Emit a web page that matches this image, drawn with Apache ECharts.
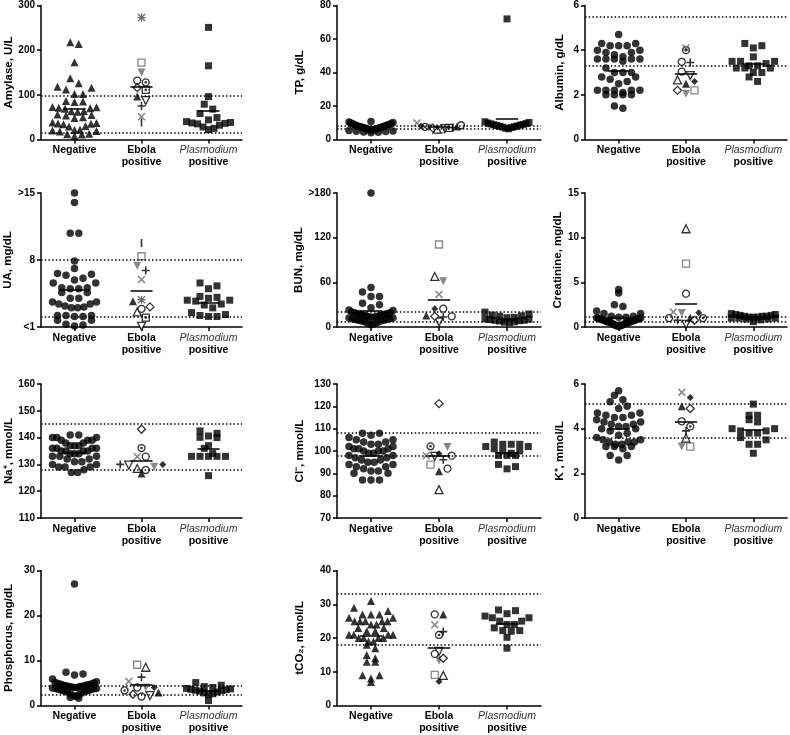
<!DOCTYPE html>
<html><head><meta charset="utf-8">
<script src="https://cdn.jsdelivr.net/npm/echarts@6/dist/echarts.min.js"></script>
<style>html,body{margin:0;padding:0;background:#fff}#c{width:790px;height:735px}</style>
</head><body><div id="c"></div>
<script>
// ---------- DATA ----------
const categories = ['Negative', 'Ebola', 'Plasmodium'];
// Ebola patients order: asterisk, squareGray, squareDot, triDownGray, triDownOpen, triUpOpen, triUpFilled,
// circleOpen, circleDot, diamondOpen, diamondFilled, plus, crossGray, bar, circleOpen2

const amylaseNeg = [218, 214, 173, 137, 126, 118, 116, 112, 102, 102, 86, 85, 84, 73, 72, 71, 70, 69, 64, 63, 62, 56, 55, 54, 50, 48, 38, 37, 36, 35, 34, 30, 29, 22, 21, 20, 19, 18, 13, 12, 11, 8];
const amylaseEbola = [273, 172, 111, 150, 87, null, 96, 132, 128, 116, null, 75, 51, 38, null];
const amylasePlas = [251, 165, 96, 79, 68, 58, 49, 44, 40, 38, 37, 36, 35, 32, 28, 25, 22];
const amylaseRef = [15, 97];
const amylaseTicks = [0, 100, 200, 300];

const tpNeg = [10.8, 10.5, 10.1, 9.9, 9.6, 9.5, 9.1, 9.0, 8.8, 8.6, 8.5, 8.2, 8.1, 7.9, 7.8, 7.6, 7.4, 7.4, 7.2, 7.0, 6.9, 6.8, 6.6, 6.5, 6.3, 6.1, 6.0, 5.9, 5.6, 5.5, 5.3, 5.1, 4.9, 4.8, 4.5, 4.3, 4.0];
const tpEbola = [null, 6.0, 7.0, 7.0, 6.5, 6.2, 7.8, 8.5, 7.5, 6.8, 8.0, 7.2, 9.9, null, null];
const tpPlas = [72, 10.6, 10.2, 9.8, 9.5, 9.3, 9.0, 8.8, 8.6, 8.3, 8.1, 7.9, 7.6, 7.4, 7.1, 6.8, 6.4];
const tpRef = [6.4, 8.5];
const tpTicks = [0, 20, 40, 60, 80];

const albuminNeg = [4.7, 4.3, 4.3, 4.2, 4.2, 4.2, 4.0, 4.0, 3.9, 3.9, 3.8, 3.7, 3.6, 3.6, 3.6, 3.6, 3.6, 3.5, 3.2, 3.0, 3.0, 3.0, 2.8, 2.8, 2.7, 2.6, 2.5, 2.2, 2.2, 2.2, 2.2, 2.2, 2.1, 2.0, 2.0, 2.0, 2.0, 1.5, 1.4];
const albuminEbola = [null, 2.2, null, 2.05, 2.86, 2.67, 2.5, 3.48, 4.0, 2.2, 2.6, 3.45, 4.1, null, 3.04];
const albuminPlas = [4.3, 4.2, 4.1, 3.7, 3.5, 3.5, 3.5, 3.4, 3.3, 3.3, 3.2, 3.2, 3.2, 3.0, 3.0, 2.8, 2.6];
const albuminRef = [3.3, 5.5];
const albuminTicks = [0, 2, 4, 6];

const uaNeg = [15, 14, 10.8, 10.8, 7.9, 7.1, 6.6, 6.5, 6.4, 6.1, 5.9, 5.6, 5.6, 5.1, 5.1, 5.0, 5.0, 4.6, 4.6, 4.0, 4.0, 3.6, 3.6, 3.4, 3.4, 3.2, 3.1, 3.0, 3.0, 2.2, 2.2, 2.2, 2.1, 2.1, 1.7, 1.7, 1.3, 1.2, 1.1];
const uaEbola = [3.86, 8.39, 1.98, 7.4, 1.07, 2.57, 3.7, 2.9, null, 3.1, null, 6.9, 5.95, 9.78, null];
const uaPlas = [5.6, 5.3, 5.0, 4.2, 4.1, 4.0, 3.8, 3.8, 3.7, 3.4, 3.3, 3.0, 2.5, 2.3, 2.2, 2.1, 2.1];
const uaRef = [2.1, 8];
const uaTicks = [1, 8, 15];
const uaTickLabels = ['<1', '8', '>15'];

const bunNeg = [180, 53, 47, 41, 41, 32, 30, 26, 23, 22, 20, 19, 19, 18, 18, 17, 17, 16, 16, 15, 15, 14, 14, 13, 13, 12, 12, 11, 11, 10, 10, 9, 9, 8, 8, 7, 6, 5, 4, 3];
const bunEbola = [null, 110.8, null, 61.6, 6.7, 67.9, 15.6, 24.6, null, 14.3, 24.6, 13.4, 43.8, null, 14.3];
const bunPlas = [20, 17.5, 16, 15, 14.5, 13, 12.5, 11, 10.5, 10, 9, 9, 8.5, 8, 7, 6.5, 6];
const bunRef = [7, 21];
const bunTicks = [0, 60, 120, 180];
const bunTickLabels = ['0', '60', '120', '>180'];

const creatNeg = [4.2, 3.8, 2.5, 2.3, 1.8, 1.5, 1.5, 1.2, 1.2, 1.1, 1.1, 1.0, 1.0, 1.0, 0.9, 0.9, 0.9, 0.8, 0.8, 0.8, 0.7, 0.7, 0.7, 0.6, 0.6, 0.6, 0.5, 0.5, 0.5, 0.4, 0.4, 0.3, 0.3, 0.2, 0.2, 0.1, 0.1, 0.1];
const creatEbola = [null, 7.1, null, 1.57, 0.3, 11.0, 1.04, 3.73, 1.0, 0.75, 1.6, 0.75, 1.68, null, 1.0];
const creatPlas = [1.5, 1.4, 1.4, 1.3, 1.3, 1.2, 1.2, 1.2, 1.1, 1.1, 1.1, 1.0, 1.0, 1.0, 0.9, 0.9, 0.8, 0.6];
const creatRef = [0.6, 1.2];
const creatTicks = [0, 5, 10, 15];

const naNeg = [141, 141, 140, 140, 140, 139, 139, 139, 138, 138, 137, 137, 137, 136, 136, 136, 136, 135, 135, 135, 135, 134, 134, 134, 133, 133, 133, 132, 132, 131, 131, 130, 130, 129, 129, 129, 128, 127, 127];
const naEbola = [null, null, null, 129.1, 129.75, 128.5, 126.6, 132.9, 136.1, 143.1, 130, 130, 132.9, null, 127.9];
const naPlas = [142.5, 141.6, 140.6, 140.1, 140, 137, 136, 134.1, 133, 133, 133, 133, 133, 125.8];
const naRef = [128, 145];
const naTicks = [110, 120, 130, 140, 150, 160];

const clNeg = [108, 108, 107, 106, 105, 105, 104, 104, 103, 103, 102, 102, 101, 101, 101, 100, 100, 100, 99, 99, 98, 98, 97, 97, 96, 96, 95, 95, 94, 94, 93, 93, 92, 91, 91, 90, 90, 87, 87, 87];
const clEbola = [null, 93.9, null, 101.8, 97.6, 82.7, 90.9, 97.9, 102.1, 121.2, 98.8, 96.1, 97.9, null, 92.1];
const clPlas = [104, 103, 103, 103, 102, 102, 101, 100, 100, 99, 98, 98, 98, 94, 93, 92];
const clRef = [98, 108];
const clTicks = [70, 80, 90, 100, 110, 120, 130];

const kNeg = [5.7, 5.5, 5.3, 5.2, 5.0, 4.9, 4.7, 4.7, 4.6, 4.6, 4.5, 4.5, 4.4, 4.3, 4.3, 4.2, 4.2, 4.1, 4.1, 4.0, 4.0, 3.9, 3.8, 3.7, 3.6, 3.5, 3.5, 3.4, 3.4, 3.4, 3.3, 3.3, 3.2, 3.2, 3.2, 3.1, 2.8, 2.8, 2.6];
const kEbola = [null, 3.2, null, 3.2, null, 3.58, 5.0, 4.33, 4.1, 4.9, 5.4, 3.9, 5.63, null, null];
const kPlas = [5.1, 4.6, 4.6, 4.4, 4.3, 4.0, 4.0, 3.9, 3.9, 3.8, 3.8, 3.6, 3.5, 3.3, 3.3, 2.9];
const kRef = [3.6, 5.1];
const kTicks = [0, 2, 4, 6];

const phosNeg = [27, 7.4, 7.0, 6.8, 5.9, 5.3, 5.1, 5.0, 4.9, 4.8, 4.7, 4.6, 4.5, 4.5, 4.4, 4.3, 4.2, 4.2, 4.1, 4.0, 4.0, 3.9, 3.8, 3.8, 3.7, 3.6, 3.5, 3.4, 3.3, 3.2, 3.1, 3.0, 2.8, 2.6, 2.4, 2.2, 2.0, 1.8, 1.6];
const phosEbola = [null, 9.06, null, 4.0, 2.2, 8.5, 2.9, 4.0, 3.34, 2.5, 4.0, 6.3, 5.35, null, 2.0];
const phosPlas = [5.1, 4.5, 4.2, 4.0, 3.8, 3.7, 3.6, 3.5, 3.4, 3.3, 3.2, 3.0, 2.8, 2.6, 2.4, 1.1];
const phosRef = [2.5, 4.4];
const phosTicks = [0, 10, 20, 30];

const tco2Neg = [31, 29, 28, 27, 27, 27, 26, 26, 25, 25, 25, 25, 25, 24, 24, 23, 23, 22, 22, 21, 21, 21, 21, 20, 20, 20, 20, 19, 19, 18, 17, 15, 14, 13, 13, 9, 9, 8, 7];
const tco2Ebola = [null, 9.1, null, 13.3, 16, 8.9, 27, 27, 20.9, 14, 7.1, 21.9, 23.9, null, 15.3];
const tco2Plas = [28.3, 28.1, 27.2, 26.5, 26, 26, 25, 25, 24, 24, 23, 22.2, 22.2, 22, 20.2, 17];
const tco2Ref = [18, 33];
const tco2Ticks = [0, 10, 20, 30, 40];

// ---------- LAYOUT / STYLE ----------
const ROWS_T = [5.5, 193, 384, 570.5];
const ROWS_H = [134, 134, 134, 135];
const COLS_L = [41, 337, 585];
const COLS_W = [201, 204, 202];
const NAME_GAP = [26, 31, 19];
const ROW_H = 9, SPACING = 8.5, MAXW = 44, MEAN_HALF = 0.165;

const panels = [
  {name: 'Amylase, U/L', r: 0, c: 0, ticks: amylaseTicks, neg: amylaseNeg, ebola: amylaseEbola, plas: amylasePlas, ref: amylaseRef, negSym: 'triangle'},
  {name: 'TP, g/dL', r: 0, c: 1, ticks: tpTicks, neg: tpNeg, ebola: tpEbola, plas: tpPlas, ref: tpRef},
  {name: 'Albumin, g/dL', r: 0, c: 2, ticks: albuminTicks, neg: albuminNeg, ebola: albuminEbola, plas: albuminPlas, ref: albuminRef},
  {name: 'UA, mg/dL', r: 1, c: 0, ticks: uaTicks, labels: uaTickLabels, neg: uaNeg, ebola: uaEbola, plas: uaPlas, ref: uaRef},
  {name: 'BUN, mg/dL', r: 1, c: 1, ticks: bunTicks, labels: bunTickLabels, neg: bunNeg, ebola: bunEbola, plas: bunPlas, ref: bunRef},
  {name: 'Creatinine, mg/dL', r: 1, c: 2, ticks: creatTicks, neg: creatNeg, ebola: creatEbola, plas: creatPlas, ref: creatRef},
  {name: 'Na\u207A, mmol/L', r: 2, c: 0, ticks: naTicks, neg: naNeg, ebola: naEbola, plas: naPlas, ref: naRef},
  {name: 'Cl\u207B, mmol/L', r: 2, c: 1, ticks: clTicks, neg: clNeg, ebola: clEbola, plas: clPlas, ref: clRef},
  {name: 'K\u207A, mmol/L', r: 2, c: 2, ticks: kTicks, neg: kNeg, ebola: kEbola, plas: kPlas, ref: kRef},
  {name: 'Phosphorus, mg/dL', r: 3, c: 0, ticks: phosTicks, neg: phosNeg, ebola: phosEbola, plas: phosPlas, ref: phosRef},
  {name: 'tCO\u2082, mmol/L', r: 3, c: 1, ticks: tco2Ticks, neg: tco2Neg, ebola: tco2Ebola, plas: tco2Plas, ref: tco2Ref, negSym: 'triangle'}
];

const GRAY = '#6a6a6a';
const P_PLUS = 'path://M4,0H6V4H10V6H6V10H4V6H0V4H4Z';
const P_CROSS = 'path://M1.4,0L5,3.6L8.6,0L10,1.4L6.4,5L10,8.6L8.6,10L5,6.4L1.4,10L0,8.6L3.6,5L0,1.4Z';
const P_BAR = 'path://M0,0H2V10H0Z';
const P_STAR = 'path://M4.2,0H5.8V10H4.2Z M0,4.2H10V5.8H0Z M1.1,0L10,8.9L8.9,10L0,1.1Z M8.9,0L10,1.1L1.1,10L0,8.9Z';
const open = (bc) => ({color: '#fff', borderColor: bc || '#000', borderWidth: 1.3});
const fill = (c) => ({color: c || '#000', borderWidth: 0});
const ebolaMarks = [
  {symbol: P_STAR, size: 8, style: fill('#444')},
  {symbol: 'rect', size: 7, style: open(GRAY)},
  {symbol: 'rect', size: 7, style: open('#000'), dot: true},
  {symbol: 'triangle', size: 8, rot: 180, style: fill(GRAY)},
  {symbol: 'triangle', size: 8, rot: 180, style: open()},
  {symbol: 'triangle', size: 8, style: open()},
  {symbol: 'triangle', size: 8, style: fill('#000')},
  {symbol: 'circle', size: 7, style: open()},
  {symbol: 'circle', size: 7, style: open(), dot: true},
  {symbol: 'diamond', size: 8, style: open()},
  {symbol: 'diamond', size: 7, style: fill('#000')},
  {symbol: P_PLUS, size: 8, style: fill('#000')},
  {symbol: P_CROSS, size: 8, style: fill(GRAY)},
  {symbol: P_BAR, size: 8, keep: true, style: fill('#000')},
  {symbol: 'circle', size: 7, style: open()}
];

function swarm(vals, min, pxY) {
  const idx = vals.map((v, i) => i).filter(i => vals[i] != null).sort((a, b) => vals[a] - vals[b]);
  const bins = {};
  idx.forEach(i => { const b = Math.floor((vals[i] - min) * pxY / ROW_H); (bins[b] = bins[b] || []).push(i); });
  const off = vals.map(() => 0);
  Object.values(bins).forEach(L => {
    const n = L.length;
    const step = n > 1 ? Math.min(SPACING, MAXW / (n - 1)) : 0;
    L.forEach((i, k) => {
      let pos;
      if (n % 2 === 1) pos = k === 0 ? 0 : (k % 2 === 1 ? 1 : -1) * Math.ceil(k / 2);
      else pos = (k % 2 === 0 ? 1 : -1) * (Math.floor(k / 2) + 0.5);
      off[i] = pos * step;
    });
  });
  return off;
}
const mean = a => { const v = a.filter(x => x != null); return v.reduce((s, x) => s + x, 0) / v.length; };

const catRich = {
  b: {fontWeight: 'bold', fontSize: 10.5, color: '#000', lineHeight: 12, fontFamily: 'Liberation Sans'},
  i: {fontStyle: 'italic', fontWeight: 'normal', fontSize: 10.5, color: '#333', lineHeight: 12, fontFamily: 'Liberation Sans'}
};
const catFmt = v => v === 'Plasmodium' ? '{i|Plasmodium}\n{b|positive}' : (v === 'Ebola' ? '{b|Ebola}\n{b|positive}' : '{b|Negative}');
const axLine = {show: true, onZero: false, lineStyle: {color: '#000', width: 1.5}};

const grids = [], xAxes = [], yAxes = [], series = [];
panels.forEach((P, p) => {
  const left = COLS_L[P.c], width = COLS_W[P.c], top = ROWS_T[P.r], height = ROWS_H[P.r];
  const min = P.ticks[0], max = P.ticks[P.ticks.length - 1];
  const pxY = height / (max - min), band = width / 3;
  grids.push({left, top, width, height});
  xAxes.push({type: 'category', gridIndex: p, data: categories, boundaryGap: true, position: 'bottom',
    axisLine: axLine, axisTick: {show: true, alignWithLabel: true, length: 4, lineStyle: {color: '#000', width: 1.5}},
    axisLabel: {interval: 0, margin: 5, formatter: catFmt, rich: catRich}, splitLine: {show: false}});
  xAxes.push({type: 'value', gridIndex: p, min: -0.5, max: 2.5, show: false, position: 'bottom'});
  const yLabel = {fontWeight: 'bold', fontSize: 10, color: '#000', margin: 6, fontFamily: 'Liberation Sans',
    customValues: P.ticks,
    formatter: v => { if (P.labels) { const k = P.ticks.indexOf(v); return k >= 0 ? P.labels[k] : ''; } return String(v); }};
  yAxes.push({type: 'value', gridIndex: p, min, max, position: 'left',
    name: P.name, nameLocation: 'middle', nameRotate: 90, nameGap: NAME_GAP[P.c],
    nameTextStyle: {fontWeight: 'bold', fontSize: 11.5, color: '#000', fontFamily: 'Liberation Sans'},
    axisLine: axLine, axisTick: {show: true, length: 4, customValues: P.ticks, lineStyle: {color: '#000', width: 1.5}},
    axisLabel: yLabel, splitLine: {show: false}});

  const xi = 2 * p + 1;
  const negOff = swarm(P.neg, min, pxY);
  series.push({type: 'scatter', xAxisIndex: xi, yAxisIndex: p, clip: false, animation: false, silent: true,
    symbol: P.negSym || 'circle', symbolSize: P.negSym ? 8 : 7.5, itemStyle: {color: '#000'},
    data: P.neg.map((v, i) => [negOff[i] / band, v]),
    markLine: {silent: true, symbol: ['none', 'none'], label: {show: false}, animation: false,
      lineStyle: {color: '#000', width: 1.5, type: [1.5, 2.2]},
      data: P.ref.map(v => ({yAxis: v}))}});
  const plOff = swarm(P.plas, min, pxY);
  series.push({type: 'scatter', xAxisIndex: xi, yAxisIndex: p, clip: false, animation: false, silent: true,
    symbol: 'rect', symbolSize: 7, itemStyle: {color: '#000'},
    data: P.plas.map((v, i) => [2 + plOff[i] / band, v])});
  const ebOff = swarm(P.ebola, min, pxY);
  const ebData = [], dotData = [];
  P.ebola.forEach((v, i) => {
    if (v == null) return;
    const m = ebolaMarks[i];
    const x = 1 + ebOff[i] / band;
    ebData.push({value: [x, v], symbol: m.symbol, symbolSize: m.size, symbolRotate: m.rot || 0,
      symbolKeepAspect: !!m.keep, itemStyle: m.style});
    if (m.dot) dotData.push([x, v]);
  });
  const means = [mean(P.neg), mean(P.ebola), mean(P.plas)];
  series.push({type: 'scatter', xAxisIndex: xi, yAxisIndex: p, clip: false, animation: false, silent: true,
    data: ebData,
    markLine: {silent: true, symbol: ['none', 'none'], label: {show: false}, animation: false,
      lineStyle: {color: '#000', width: 1.5, type: 'solid'},
      data: means.map((m, g) => [{coord: [g - MEAN_HALF, m]}, {coord: [g + MEAN_HALF, m]}])}});
  series.push({type: 'scatter', xAxisIndex: xi, yAxisIndex: p, clip: false, animation: false, silent: true,
    symbol: 'circle', symbolSize: 2.6, itemStyle: {color: '#000'}, data: dotData});
});

const chart = echarts.init(document.getElementById('c'), null, {renderer: 'canvas'});
chart.setOption({
  animation: false,
  backgroundColor: '#fff',
  textStyle: {fontFamily: 'Liberation Sans, Arial, sans-serif'},
  grid: grids, xAxis: xAxes, yAxis: yAxes, series
});
</script></body></html>
